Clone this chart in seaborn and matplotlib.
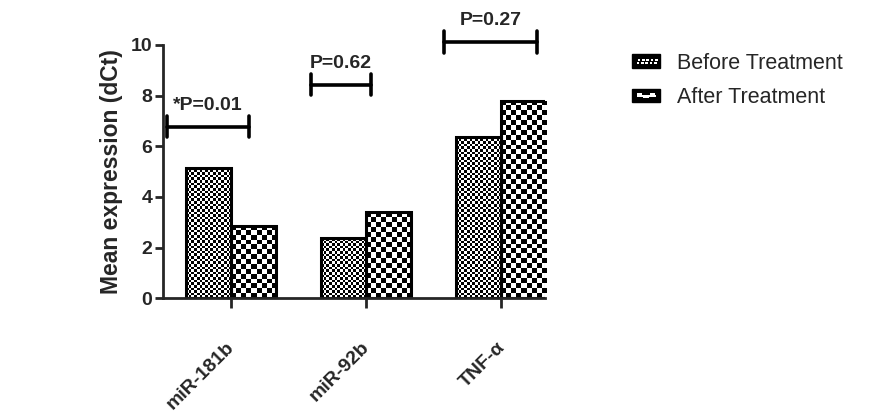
import numpy as np
import pandas as pd
import matplotlib
matplotlib.use("Agg")
import matplotlib.pyplot as plt
import matplotlib.transforms as mtransforms
import seaborn as sns
from matplotlib.patches import Patch, Rectangle
from matplotlib.legend_handler import HandlerBase

# data
genes = ["miR-181b", "miR-92b", "TNF-α"]
before = [5.16, 2.36, 6.38]
after = [2.87, 3.39, 7.80]
groups = ["Before Treatment", "After Treatment"]
p_labels = ["*P=0.01", "P=0.62", "P=0.27"]
bracket_y = [6.77, 8.43, 10.12]
bracket_x = [(-0.47, 0.13), (0.59, 1.04), (1.58, 2.27)]

df = pd.DataFrame({
    "gene": genes * 2,
    "group": [groups[0]] * 3 + [groups[1]] * 3,
    "value": before + after,
})

sns.set_style("ticks")
plt.rcParams["font.family"] = ["Liberation Sans", "DejaVu Sans"]

fig = plt.figure(figsize=(8.95, 4.16), dpi=100)
ax = fig.add_axes([0.182, 0.283, 0.427, 0.609])

sns.barplot(data=df, x="gene", y="value", hue="group", hue_order=groups,
            width=0.67, gap=0, ax=ax, legend=False,
            color="white", edgecolor="black", linewidth=2.2, saturation=1)

XLIM = (-0.504, 2.326)
ax.set_xlim(*XLIM)
ax.set_ylim(0, 10)
ax.set_yticks([0, 2, 4, 6, 8, 10])
fig.canvas.draw()


def checker(cell_px, bar):
    # checkerboard fill clipped to the bar
    x0, y0 = bar.get_x(), bar.get_y()
    w, h = bar.get_width(), bar.get_height()
    p0 = ax.transData.transform((x0, y0))
    p1 = ax.transData.transform((x0 + w, y0 + h))
    nx = max(1, int(round((p1[0] - p0[0]) / cell_px)))
    ny = max(1, int(round((p1[1] - p0[1]) / cell_px)))
    grid = (np.add.outer(np.arange(ny), np.arange(nx)) % 2).astype(float)
    im = ax.imshow(grid, cmap="gray", vmin=0, vmax=1, interpolation="nearest",
                   extent=(x0, x0 + w, y0, y0 + h), aspect="auto", zorder=1.5)
    im.set_clip_path(bar)


bars = [p for p in ax.patches]
for i, bar in enumerate(bars):
    checker(2.6 if i < 3 else 5.0, bar)
    bar.set_zorder(2)
    bar.set_facecolor("none")
ax.set_xlim(*XLIM)
ax.set_ylim(0, 10)

# significance brackets
for (xa, xb), yb, lab in zip(bracket_x, bracket_y, p_labels):
    ax.plot([xa, xb], [yb, yb], color="black", lw=2.6, clip_on=False)
    for xx in (xa, xb):
        ax.plot([xx, xx], [yb - 0.42, yb + 0.42], color="black", lw=2.6, clip_on=False)
    ax.text((xa + xb) / 2, yb + 0.5, lab, ha="center", va="bottom",
            fontsize=14, fontweight="bold", clip_on=False)

for s in ["top", "right"]:
    ax.spines[s].set_visible(False)
for s in ["left", "bottom"]:
    ax.spines[s].set_linewidth(2)
ax.tick_params(axis="both", width=2, labelsize=14)
ax.tick_params(axis="y", length=6, pad=1.5)
ax.tick_params(axis="x", length=7, pad=22)
for t in ax.get_yticklabels():
    t.set_fontweight("bold")
ax.set_xticks(range(3))
ax.set_xticklabels(genes, rotation=45, ha="right", rotation_mode="anchor",
                   fontweight="bold", fontsize=14)
shift = mtransforms.ScaledTranslation(-0.05, 0, fig.dpi_scale_trans)
for t in ax.get_xticklabels():
    t.set_transform(t.get_transform() + shift)
ax.set_xlabel("")
ax.set_ylabel("Mean expression (dCt)", fontsize=16.5, fontweight="bold")
ax.yaxis.set_label_coords(-0.105, 0.5)


class CheckerHandler(HandlerBase):
    # black swatch with small white blocks, like the reference legend
    def __init__(self, style):
        super().__init__()
        self.style = style

    def create_artists(self, legend, orig_handle, xdescent, ydescent,
                       width, height, fontsize, trans):
        x0, y0 = -xdescent, -ydescent
        arts = [Rectangle((x0, y0), width, height, facecolor="black",
                          edgecolor="black", transform=trans)]
        if self.style == 0:
            cols, rows = 5, 2
            cw, ch = width * 0.7 / (cols * 2 - 1), height * 0.5 / 3
            for r in range(rows):
                for c in range(cols):
                    xx = x0 + width * 0.15 + c * 2 * cw + (r % 2) * cw * 0.5
                    yy = y0 + height * 0.25 + r * ch * 1.6
                    arts.append(Rectangle((xx, yy), cw * 1.2, ch, facecolor="white",
                                          edgecolor="none", transform=trans))
        else:
            cw = width * 0.2
            for c, up in zip(range(3), (1, 0, 1)):
                xx = x0 + width * 0.15 + c * cw * 1.15
                yy = y0 + height * (0.5 if up else 0.3)
                arts.append(Rectangle((xx, yy), cw, height * 0.2, facecolor="white",
                                      edgecolor="none", transform=trans))
            arts.append(Rectangle((x0 + width * 0.15, y0 + height * 0.4),
                                  width * 0.7, height * 0.12, facecolor="white",
                                  edgecolor="none", transform=trans))
        return arts


h_before = Patch(facecolor="black")
h_after = Patch(facecolor="black")
fig.legend([h_before, h_after], groups, loc="upper left",
           bbox_to_anchor=(0.685, 0.92), frameon=False, fontsize=15.5,
           handlelength=1.3, handleheight=0.6, labelspacing=0.62,
           handletextpad=0.75,
           handler_map={h_before: CheckerHandler(0), h_after: CheckerHandler(1)})

fig.savefig("out.png", dpi=100)
